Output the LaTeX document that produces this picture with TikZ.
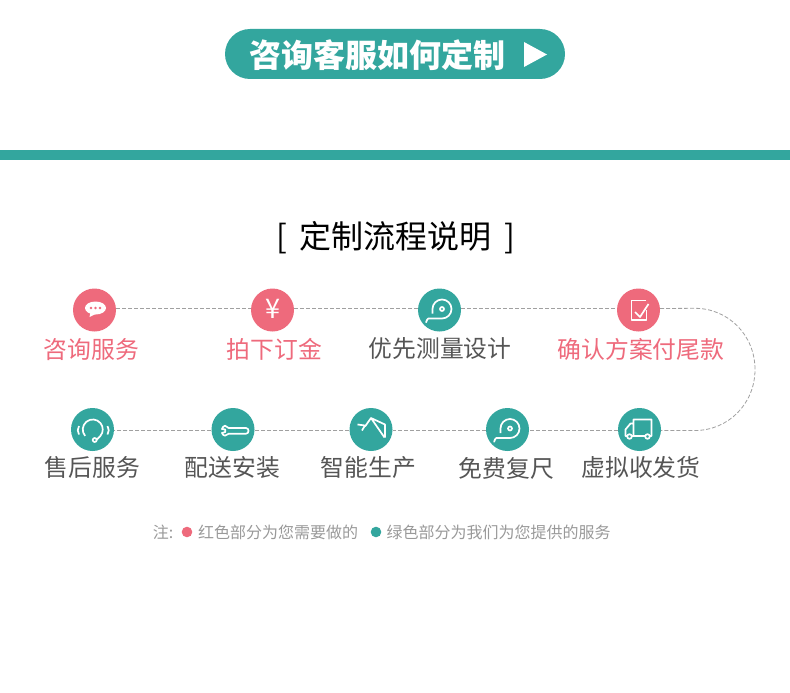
\documentclass[tikz,border=0pt]{standalone}
\usepackage{fontspec}
\setmainfont{Noto Sans CJK SC}
\definecolor{teal1}{HTML}{33A69E}
\definecolor{pink1}{HTML}{EE6A7C}
\definecolor{dark1}{HTML}{555555}
\definecolor{note1}{HTML}{999999}
\definecolor{dash1}{HTML}{A0A0A0}
\tikzset{
    icon/.style={draw=white, line width=1.7pt, fill=none, line join=round},
    tapeicon/.pic={
        \draw[icon] (-7,3.5) -- (-7,-1) arc[start angle=180, end angle=450, radius=9.5] -- (-11,8.5) to[out=180, in=-90] (-13.5,12);
        \draw[icon] (2.5,-1) circle (2);
    },
}
\begin{document}
\begin{tikzpicture}[
            x = 1pt, y = -1pt,
            every node/.style={text depth=0pt, inner sep=0pt},
            bluecircle/.style={circle, fill=teal1, minimum size=43pt},
            redcircle/.style={circle, fill=pink1, minimum size=43pt},
            darklabel/.style={text=dark1, font=\fontsize{23.8pt}{26pt}\selectfont},
            redlabel/.style={text=pink1, font=\fontsize{23.8pt}{26pt}\selectfont},
            notelabel/.style={text=note1, font=\fontsize{16pt}{18pt}\selectfont},
            line/.style={draw=dash1, line width=.8pt, dash pattern=on 4pt off 2pt},
            ]
        \useasboundingbox (0,0) rectangle (790,693);

        % header
        \node[fill=teal1, rounded corners=25pt, minimum width=340pt, minimum height=50pt] (pill) at (395,54) {};
        \node[text=white, font=\fontsize{32pt}{34pt}\selectfont\bfseries] (title) at (377.5,54) {咨询客服如何定制};
        \fill[white] (524,42) -- (547,54.5) -- (524,67) -- cycle;
        \fill[teal1] (0,150) rectangle (790,160);
        \node[text=black, font=\fontsize{32pt}{36pt}\selectfont] (subtitle) at (396,235) {[\hspace{13pt}定制流程说明\hspace{13pt}]};

        % steps
        \node[redcircle] (ask) at (94.5,310) {};
        \node[redcircle] (pay) at (272.5,310) {};
        \node[bluecircle] (measure) at (439.5,310) {};
        \node[redcircle] (confirm) at (638.5,310) {};
        \node[bluecircle] (service) at (92.5,429.5) {};
        \node[bluecircle] (install) at (233,429.5) {};
        \node[bluecircle] (produce) at (371,429.5) {};
        \node[bluecircle] (recheck) at (507.5,429.5) {};
        \node[bluecircle] (ship) at (639.5,429.5) {};

        % dashed path
        \coordinate (turnA) at (695,308.3);
        \coordinate (turnB) at (755,369.5);
        \coordinate (turnC) at (695,430.5);
        \draw[line] ([yshift=1.5pt]ask.east) -- ([yshift=1.5pt]pay.west);
        \draw[line] ([yshift=1.5pt]pay.east) -- ([yshift=1.5pt]measure.west);
        \draw[line] ([yshift=1.5pt]measure.east) -- ([yshift=1.5pt]confirm.west);
        \draw[line] ([yshift=1.5pt]confirm.east) -- (turnA) .. controls (728,308.3) and (755,335) .. (turnB) .. controls (755,404) and (728,430.5) .. (turnC) -- ([yshift=-1pt]ship.east);
        \draw[line] ([yshift=-1pt]ship.west) -- ([yshift=-1pt]recheck.east);
        \draw[line] ([yshift=-1pt]recheck.west) -- ([yshift=-1pt]produce.east);
        \draw[line] ([yshift=-1pt]produce.west) -- ([yshift=-1pt]install.east);
        \draw[line] ([yshift=-1pt]install.west) -- ([yshift=-1pt]service.east);

        % labels
        \node[redlabel] (askT) at (91.5,348) {咨询服务};
        \node[redlabel] (payT) at (274.5,348) {拍下订金};
        \node[darklabel] (measureT) at (440,348) {优先测量设计};
        \node[redlabel] (confirmT) at (641,348) {确认方案付尾款};
        \node[darklabel] (serviceT) at (92.5,466) {售后服务};
        \node[darklabel] (installT) at (232.5,466) {配送安装};
        \node[darklabel] (produceT) at (368.5,466) {智能生产};
        \node[darklabel] (recheckT) at (506.5,467) {免费复尺};
        \node[darklabel] (shipT) at (641,466) {虚拟收发货};

        % chat icon
        \begin{scope}[shift={(ask.center)}]
            \fill[white] (1,-2) ellipse (10.5 and 6.5);
            \fill[white] (-4,2) -- (-5,7) -- (3,3) -- cycle;
            \fill[pink1] (-3.5,-2) circle (1.4);
            \fill[pink1] (1,-2) circle (1.4);
            \fill[pink1] (5.5,-2) circle (1.4);
        \end{scope}
        % yen icon
        \node[text=white, font=\fontsize{27pt}{27pt}\selectfont] (yen) at (272.5,309) {¥};
        % tape icons
        \pic at (measure.center) {tapeicon};
        \pic at (recheck.center) {tapeicon};
        % check icon
        \begin{scope}[shift={(confirm.center)}]
            \draw[icon] (7.5,-9.5) -- (-7,-9.5) -- (-7,10) -- (8,10) -- (8,0);
            \draw[icon] (-3.5,2) -- (1.5,7) -- (10,-6);
        \end{scope}
        % headset icon
        \begin{scope}[shift={(service.center)}]
            \draw[icon] (-7.4,6.4) arc[start angle=140, end angle=400, radius=10] -- (4,10.5);
            \draw[icon] (2.2,10.5) circle (2);
            \draw[icon] (-13.5,-3.5) to[bend right=30] (-13.5,5);
            \draw[icon] (15,-3.5) to[bend left=30] (15,5);
        \end{scope}
        % wrench icon
        \begin{scope}[shift={(install.center)}]
            \draw[icon] (-11,-.5) -- (-7.7,0) -- (-7.7,2.5) -- (-11,3.5) to[out=-60, in=180] (-8,6.2) to[out=0, in=180] (-4.3,4.2) -- (13,4.2) to[out=0, in=0, looseness=1.5] (13,-1.5) -- (-4.3,-1.5) to[out=180, in=0] (-8,-3.8) to[out=180, in=60] (-11,-.5) -- cycle;
        \end{scope}
        % machine icon
        \begin{scope}[shift={(produce.center)}]
            \draw[icon] (14,8) -- (14,-5) -- (0,-11.5) -- (13.5,8);
            \draw[icon] (0,-11.5) -- (-6,-3);
            \draw[icon] (-13.5,-5) -- (-6,-4) -- (-9,1);
        \end{scope}
        % truck icon
        \begin{scope}[shift={(ship.center)}]
            \draw[icon] (-6,6.5) -- (-6,-10) -- (12,-10) -- (12,6.5) -- (-14,6.5) -- (-14,0) -- (-9,-6) -- (-6,-6);
            \draw[icon, fill=teal1] (-10,7) circle (2.3);
            \draw[icon, fill=teal1] (8,7) circle (2.3);
        \end{scope}

        % note
        \node[notelabel] (noteT) at (163,532) {注:};
        \fill[pink1] (187,532) circle (5.3);
        \node[notelabel] (redT) at (278,532) {红色部分为您需要做的};
        \fill[teal1] (376,532) circle (5.3);
        \node[notelabel] (greenT) at (498.5,532) {绿色部分为我们为您提供的服务};
\end{tikzpicture}
\end{document}
